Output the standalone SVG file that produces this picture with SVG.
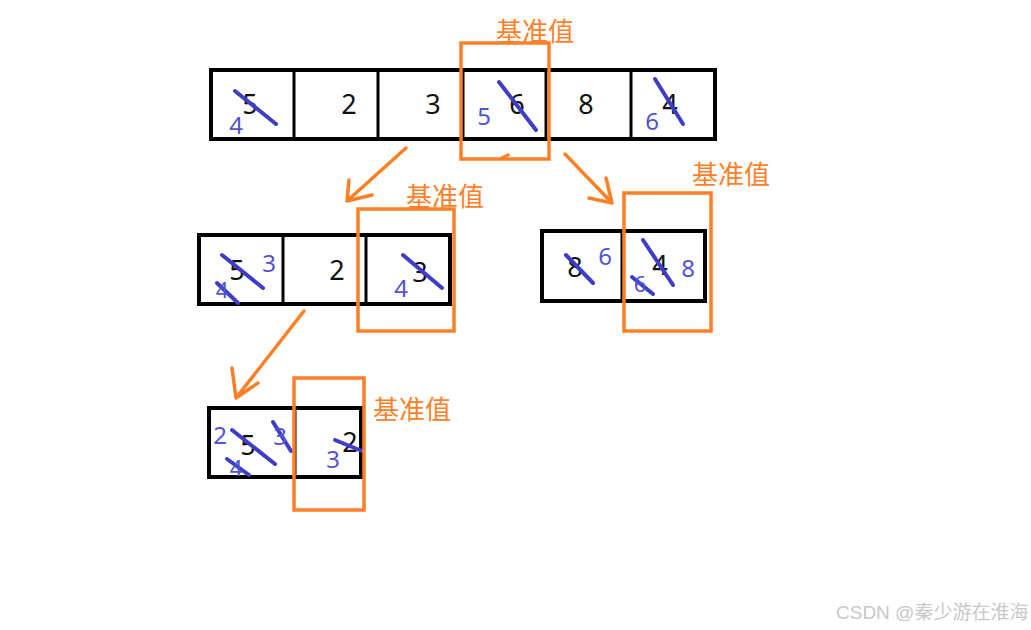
<svg xmlns="http://www.w3.org/2000/svg" width="1031" height="630" viewBox="0 0 1031 630">
<style>
.cell{fill:none;stroke:#000;stroke-width:4}
.div{stroke:#000;stroke-width:3}
.pivot{fill:none;stroke:#ff7f27;stroke-width:3.5}
.d{font-family:"Noto Sans","DejaVu Sans",sans-serif;font-size:27px;fill:#111;text-anchor:middle}
.b{font-family:"Noto Sans","DejaVu Sans",sans-serif;font-size:24px;fill:#5252d6;text-anchor:middle}
.bs{font-family:"Noto Sans","DejaVu Sans",sans-serif;font-size:22px;fill:#5252d6;text-anchor:middle}
.s{stroke:#3d3dc8;stroke-width:4;stroke-linecap:round}
.lbl{font-family:"Noto Sans CJK SC","Noto Sans",sans-serif;font-size:26px;fill:#ff7f27;text-anchor:middle}
.arr{fill:none;stroke:#ff7f27;stroke-width:3.5;stroke-linecap:round;stroke-linejoin:round}
.wm{font-family:"Liberation Sans","Noto Sans CJK SC",sans-serif;font-size:19px;fill:#c8c8c8}
</style>
<rect width="1031" height="630" fill="#fff"/>

<g id="row1">
<rect class="cell" x="211" y="70" width="504" height="69"/>
<line class="div" x1="294" y1="70" x2="294" y2="139"/>
<line class="div" x1="378" y1="70" x2="378" y2="139"/>
<line class="div" x1="463" y1="70" x2="463" y2="139"/>
<line class="div" x1="546" y1="70" x2="546" y2="139"/>
<line class="div" x1="631" y1="70" x2="631" y2="139"/>
<text class="d" x="250" y="114">5</text>
<text class="d" x="349" y="114">2</text>
<text class="d" x="433" y="114">3</text>
<text class="d" x="517" y="114">6</text>
<text class="d" x="586" y="114">8</text>
<text class="d" x="670" y="114">4</text>
<line class="s" x1="235" y1="91" x2="276" y2="124"/>
<line class="s" x1="499" y1="82" x2="536" y2="130"/>
<line class="s" x1="655" y1="79" x2="683" y2="124"/>
<text class="b" x="236" y="134">4</text>
<text class="b" x="484" y="125">5</text>
<text class="b" x="652" y="130">6</text>
</g>

<g id="pivot1">
<rect class="pivot" x="461" y="43" width="88" height="116"/>
<line class="arr" x1="502" y1="158" x2="508" y2="155"/>
<text class="lbl" x="535" y="41">基准值</text>
</g>

<g id="row2left">
<rect class="cell" x="199" y="235" width="251" height="69"/>
<line class="div" x1="283" y1="235" x2="283" y2="304"/>
<line class="div" x1="366" y1="235" x2="366" y2="304"/>
<text class="d" x="237" y="280">5</text>
<text class="d" x="337" y="280">2</text>
<text class="d" x="420" y="282">3</text>
<line class="s" x1="222" y1="255" x2="263" y2="288"/>
<line class="s" x1="217" y1="283" x2="238" y2="303"/>
<line class="s" x1="403" y1="255" x2="442" y2="288"/>
<text class="b" x="269" y="272">3</text>
<text class="bs" x="222" y="298">4</text>
<text class="b" x="401" y="297">4</text>
</g>

<g id="pivot2">
<rect class="pivot" x="358" y="209" width="96" height="122"/>
<text class="lbl" x="445" y="206">基准值</text>
</g>

<g id="row2right">
<rect class="cell" x="542" y="231" width="163" height="70"/>
<line class="div" x1="622" y1="231" x2="622" y2="301"/>
<text class="d" x="575" y="277">8</text>
<text class="d" x="660" y="275">4</text>
<line class="s" x1="566" y1="255" x2="593" y2="283"/>
<line class="s" x1="643" y1="240" x2="673" y2="285"/>
<line class="s" x1="632" y1="277" x2="653" y2="294"/>
<text class="b" x="605" y="265">6</text>
<text class="b" x="688" y="277">8</text>
<text class="bs" x="640" y="292">6</text>
</g>

<g id="pivot3">
<rect class="pivot" x="624" y="193" width="87" height="138"/>
<text class="lbl" x="731" y="184">基准值</text>
</g>

<g id="row3">
<rect class="cell" x="209" y="408" width="152" height="69"/>
<line class="div" x1="295" y1="408" x2="295" y2="477"/>
<text class="d" x="248" y="455">5</text>
<text class="d" x="350" y="452">2</text>
<line class="s" x1="232" y1="430" x2="275" y2="464"/>
<line class="s" x1="227" y1="459" x2="249" y2="475"/>
<line class="s" x1="273" y1="422" x2="291" y2="451"/>
<line class="s" x1="335" y1="440" x2="362" y2="451"/>
<text class="b" x="220" y="444">2</text>
<text class="b" x="280" y="445">3</text>
<text class="b" x="333" y="468">3</text>
<text class="bs" x="236" y="476">4</text>
</g>

<g id="pivot4">
<rect class="pivot" x="294" y="378" width="70" height="132"/>
<text class="lbl" x="412" y="419">基准值</text>
</g>

<g id="connectors">
<path class="arr" d="M406,148 L347,201 M349,180 L347,201 L372,195"/>
<path class="arr" d="M565,154 L612,203 M606,178 L612,203 L589,198"/>
<path class="arr" d="M304,311 L236,398 M232,368 L236,398 L258,383"/>
</g>

<text class="wm" x="836" y="619">CSDN @秦少游在淮海</text>
</svg>
